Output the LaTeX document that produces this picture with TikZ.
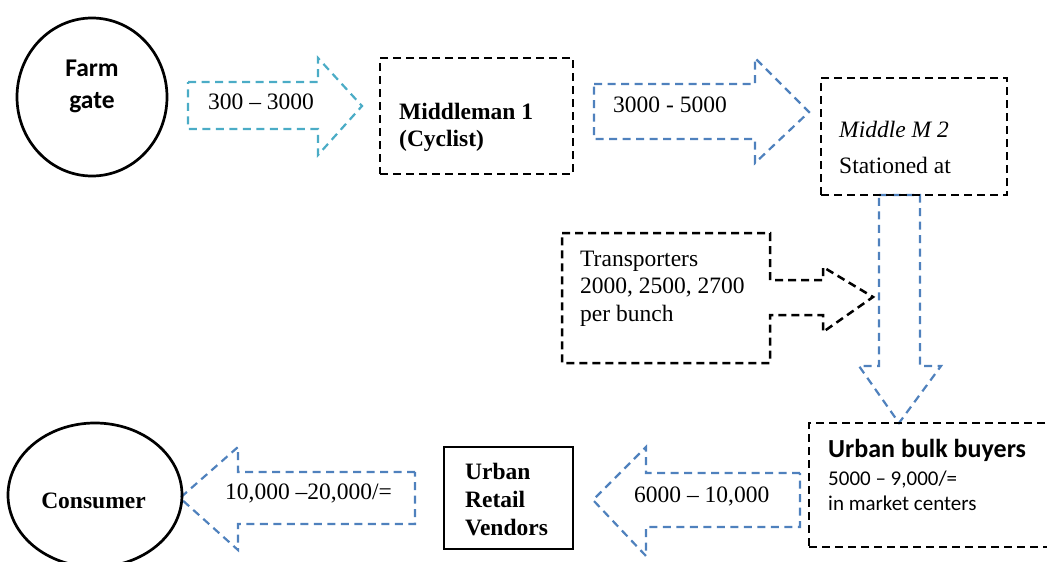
\documentclass[tikz,border=0pt]{standalone}
\usepackage{fontspec}
\setmainfont{Liberation Serif}
\newfontfamily\carlito{Carlito}
\usetikzlibrary{shapes.geometric}
\definecolor{arrowcyan}{HTML}{4BACC6}
\definecolor{arrowblue}{HTML}{4F81BD}
\begin{document}
\begin{tikzpicture}[x=1pt,y=-1pt,
  solidline/.style={draw=black, line width=2.7pt},
  dashbox/.style={draw=black, line width=2.5pt, dash pattern=on 8pt off 5pt, inner sep=0pt},
  cyanarrow/.style={draw=arrowcyan, line width=2.2pt, dash pattern=on 8pt off 5.5pt, line join=miter},
  bluearrow/.style={draw=arrowblue, line width=2.2pt, dash pattern=on 8pt off 5.5pt, line join=miter},
  serif/.style={font=\fontsize{23.5}{28}\selectfont, inner sep=0pt},
  sans/.style={font=\carlito\fontsize{21}{25}\selectfont, inner sep=0pt},
  sansbold/.style={font=\carlito\bfseries\fontsize{25.5}{30}\selectfont, inner sep=0pt},
  bulktitle/.style={font=\carlito\bfseries\fontsize{26}{30}\selectfont, inner sep=0pt},
]
\useasboundingbox (0,0) rectangle (1047,562);
\clip (0,0) rectangle (1047,562);

% block arrows carrying the prices
\draw[cyanarrow] (188,82) -- (318,82) -- (318,58) -- (362,106) -- (318,155) -- (318,129) -- (188,129) -- cycle;
\draw[bluearrow] (594,84) -- (755,84) -- (755,58) -- (809,112) -- (755,163) -- (755,139) -- (594,139) -- cycle;
\draw[bluearrow] (879,195) -- (920,195) -- (920,366) -- (941,366) -- (899,423) -- (859,366) -- (879,366) -- cycle;
\draw[bluearrow] (800,473) -- (646,473) -- (646,447) -- (593,500) -- (646,556) -- (646,527) -- (800,527) -- cycle;
\draw[bluearrow] (415,472) -- (238,472) -- (238,447) -- (180,498) -- (238,550) -- (238,524) -- (415,524) -- cycle;

% transporters callout box with its arrow
\draw[dashbox] (562,233) -- (770,233) -- (770,280) -- (823,280) -- (823,267) -- (873,297) -- (823,332) -- (823,315) -- (770,315) -- (770,363) -- (562,363) -- cycle;

% actors
\node[solidline, ellipse, minimum width=150pt, minimum height=158pt] (farm) at (92,97) {};
\node[dashbox, minimum width=193pt, minimum height=116pt] (mm1) at (476.5,116) {};
\node[dashbox, minimum width=186pt, minimum height=117pt] (mm2) at (914,136.5) {};
\node[dashbox, minimum width=251pt, minimum height=124pt] (bulk) at (934.5,485) {};
\node[solidline, minimum width=129pt, minimum height=102pt, inner sep=0pt] (retail) at (508.5,498) {};
\node[solidline, ellipse, minimum width=174pt, minimum height=144pt] (consumer) at (95,495) {};

% texts
\node[sansbold, anchor=base] (farmA) at (92,76) {Farm};
\node[sansbold, anchor=base] (farmB) at (92,108) {gate};
\node[serif, anchor=base] (p1) at (261,109) {300 – 3000};
\node[serif, anchor=base west] (mm1A) at (399,119) {\bfseries Middleman 1};
\node[serif, anchor=base west] (mm1B) at (399,146) {\bfseries (Cyclist)};
\node[serif, anchor=base west] (p2) at (613,112) {3000 - 5000};
\node[serif, anchor=base west] (mm2A) at (839,137) {\itshape Middle M 2};
\node[serif, anchor=base west] (mm2B) at (839,173) {Stationed at};
\node[serif, anchor=base west] (trA) at (580,266) {Transporters};
\node[serif, anchor=base west] (trB) at (580,293) {2000, 2500, 2700};
\node[serif, anchor=base west] (trC) at (580,321) {per bunch};
\node[bulktitle, anchor=base west] (bulkA) at (828,457) {Urban bulk buyers};
\node[sans, anchor=base west] (bulkB) at (828,485) {5000 – 9,000/=};
\node[sans, anchor=base west] (bulkC) at (828,510) {in market centers};
\node[serif, anchor=base west] (p3) at (634,502) {6000 – 10,000};
\node[serif, anchor=base west] (retA) at (465,479) {\bfseries Urban};
\node[serif, anchor=base west] (retB) at (465,507) {\bfseries Retail};
\node[serif, anchor=base west] (retC) at (465,535) {\bfseries Vendors};
\node[serif, anchor=base west] (p4) at (225,499) {10,000 –20,000/=};
\node[serif, anchor=base] (consA) at (93.5,508) {\bfseries Consumer};
\end{tikzpicture}
\end{document}
